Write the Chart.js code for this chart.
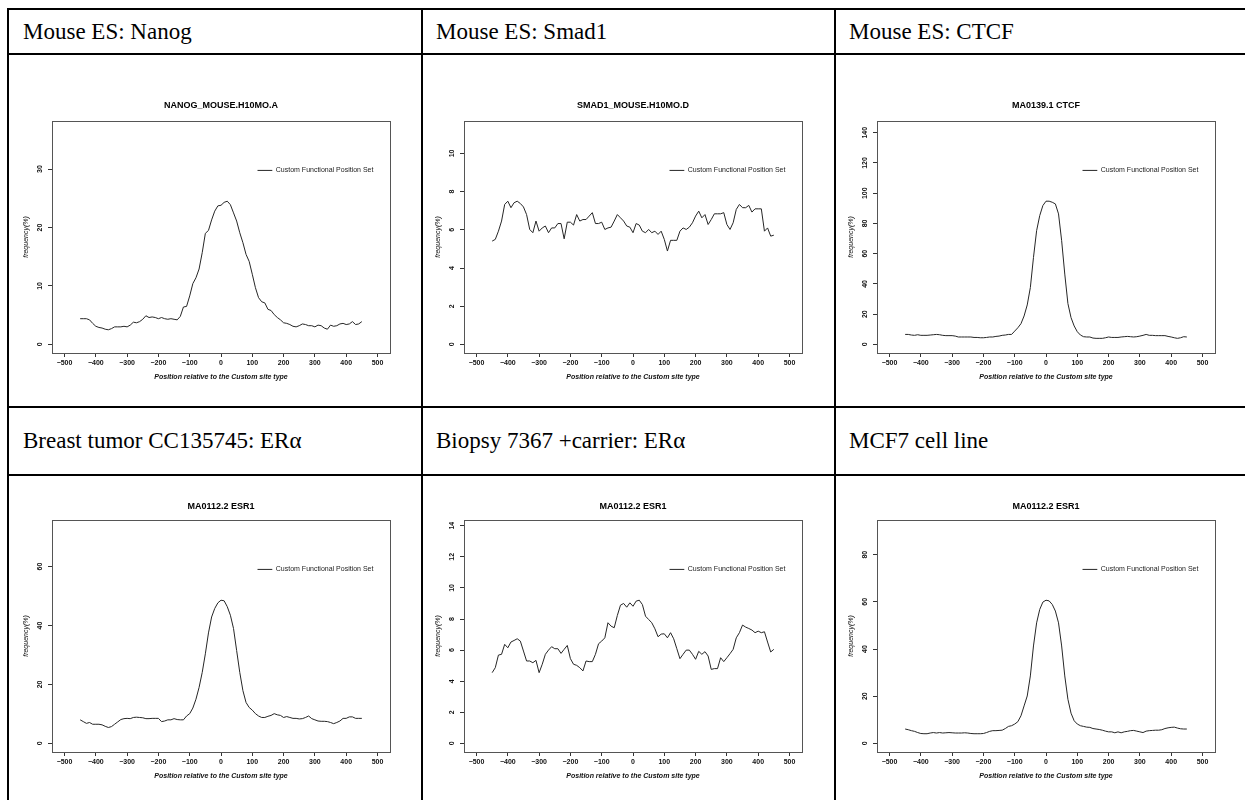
<!DOCTYPE html>
<html>
<head>
<meta charset="utf-8">
<script src="https://cdn.jsdelivr.net/npm/chart.js@4.4.1/dist/chart.umd.min.js"></script>
<style>
html,body{margin:0;padding:0;background:#fff;}
#page{position:relative;width:1245px;height:800px;overflow:hidden;background:#fff;}
.ln{position:absolute;background:#000;}
.hd{position:absolute;font-family:"Liberation Serif","Times New Roman",serif;font-size:23px;color:#000;white-space:nowrap;display:flex;align-items:center;}
canvas{position:absolute;}
</style>
</head>
<body>
<div id="page">
  <div class="ln" style="left:7px;top:8px;width:1238px;height:2px;"></div>
  <div class="ln" style="left:7px;top:8px;width:2px;height:792px;"></div>
  <div class="ln" style="left:421px;top:8px;width:2px;height:792px;"></div>
  <div class="ln" style="left:834px;top:8px;width:2px;height:792px;"></div>
  <div class="ln" style="left:7px;top:53px;width:1238px;height:2px;"></div>
  <div class="ln" style="left:7px;top:406px;width:1238px;height:2px;"></div>
  <div class="ln" style="left:7px;top:474px;width:1238px;height:2px;"></div>

  <div class="hd" style="left:23px;top:10px;height:43px;">Mouse ES: Nanog</div>
  <div class="hd" style="left:436px;top:10px;height:43px;">Mouse ES: Smad1</div>
  <div class="hd" style="left:849px;top:10px;height:43px;">Mouse ES: CTCF</div>
  <div class="hd" style="left:23px;top:408px;height:66px;">Breast tumor CC135745: ERα</div>
  <div class="hd" style="left:436px;top:408px;height:66px;">Biopsy 7367 +carrier: ERα</div>
  <div class="hd" style="left:849px;top:408px;height:66px;">MCF7 cell line</div>

  <canvas id="c1" width="398" height="292" style="left:7px;top:91px;width:398px;height:292px;"></canvas>
  <canvas id="c2" width="398" height="292" style="left:419px;top:91px;width:398px;height:292px;"></canvas>
  <canvas id="c3" width="398" height="292" style="left:832px;top:91px;width:398px;height:292px;"></canvas>
  <canvas id="c4" width="398" height="292" style="left:7px;top:490px;width:398px;height:292px;"></canvas>
  <canvas id="c5" width="398" height="292" style="left:419px;top:490px;width:398px;height:292px;"></canvas>
  <canvas id="c6" width="398" height="292" style="left:832px;top:490px;width:398px;height:292px;"></canvas>
</div>
<script>
// ---------------- DATA ----------------
const positions = [-450,-440,-430,-420,-410,-400,-390,-380,-370,-360,-350,-340,-330,-320,-310,
  -300,-290,-280,-270,-260,-250,-240,-230,-220,-210,-200,-190,-180,-170,-160,-150,-140,-130,-120,-110,
  -100,-90,-80,-70,-60,-50,-40,-30,-20,-10,0,10,20,30,40,50,60,70,80,90,
  100,110,120,130,140,150,160,170,180,190,200,210,220,230,240,250,260,270,280,290,
  300,310,320,330,340,350,360,370,380,390,400,410,420,430,440,450];

const nanogValues = [4.4,4.4,4.4,4.2,3.6,
  3.1,2.9,2.8,2.6,2.5,2.7,3.0,3.0,3.0,3.1,
  3.0,3.3,3.8,3.7,3.9,4.3,4.9,4.6,4.7,4.6,
  4.4,4.6,4.4,4.3,4.4,4.3,4.2,4.8,6.4,6.5,
  8.3,10.4,11.4,12.9,15.7,19.0,19.5,21.3,22.8,23.7,
  23.8,24.3,24.5,23.9,22.5,21.1,19.1,17.4,15.4,14.2,
  12.0,9.7,8.0,7.3,7.1,6.0,5.8,5.1,4.6,4.2,
  3.7,3.6,3.4,3.1,3.0,3.2,3.5,3.4,3.2,3.2,
  3.0,3.3,3.2,2.8,2.6,3.3,3.1,3.2,3.5,3.6,
  3.4,3.5,3.9,3.4,3.5,3.9];

const smad1Values = [5.41,5.5,5.93,6.46,7.33,
  7.5,7.16,7.42,7.5,7.38,7.2,6.8,6.02,5.85,6.46,
  5.93,6.1,6.2,5.85,6.1,6.1,6.33,6.33,5.53,6.4,
  6.4,6.25,6.8,6.46,6.54,6.54,6.72,6.9,6.33,6.33,
  6.4,6.02,6.1,6.14,6.46,6.8,6.63,6.46,6.2,6.14,
  5.85,6.33,6.25,5.93,5.85,6.02,5.85,5.93,5.76,5.93,
  5.5,4.89,5.45,5.45,5.45,5.93,6.1,6.02,6.14,6.37,
  6.72,6.98,6.63,6.8,6.28,6.54,6.84,6.84,6.84,6.9,
  6.28,6.02,6.37,7.07,7.33,7.16,7.16,7.28,6.93,7.1,
  7.1,7.1,5.93,6.1,5.67,5.72];

const ctcfValues = [6.6,6.6,6.2,6.0,6.4,
  6.0,6.0,6.0,6.2,6.4,6.6,6.4,6.0,5.8,5.8,
  5.8,5.5,4.9,4.9,4.9,4.9,4.9,4.6,4.6,4.4,
  4.4,4.6,4.9,4.9,5.3,5.5,6.0,6.2,6.6,6.6,
  8.8,11.0,13.7,18.8,26.1,37.6,57.5,75.2,85.2,91.8,
  94.7,94.7,94.0,92.9,86.3,68.6,46.5,27.0,17.7,12.2,
  8.4,6.2,5.1,4.9,4.9,4.2,4.0,4.0,4.0,4.4,
  4.9,4.6,4.6,4.6,4.9,5.1,5.3,5.1,4.9,5.1,
  5.5,6.0,6.6,6.0,6.0,5.8,5.8,5.8,5.8,5.3,
  4.9,4.4,4.0,4.4,5.1,4.9];

const breastTumorValues = [8.0,7.4,6.8,7.1,6.5,
  6.5,6.5,6.3,5.8,5.4,5.7,6.5,7.3,8.1,8.4,
  8.5,8.4,8.8,8.9,8.8,8.7,8.4,8.4,8.5,8.5,
  8.5,7.4,7.6,8.0,8.0,8.4,8.1,8.0,8.0,9.3,
  10.1,12.0,15.0,19.0,24.1,30.4,37.5,42.9,45.8,47.7,
  48.6,48.4,46.4,43.5,39.0,31.5,24.1,17.9,13.9,12.2,
  11.3,10.1,9.3,8.8,8.8,9.2,9.5,10.1,9.7,9.5,
  8.8,9.1,8.8,8.5,8.5,8.3,8.4,8.8,9.3,8.4,
  8.0,7.6,7.5,7.5,7.4,7.1,6.7,7.1,7.6,8.5,
  8.5,9.0,9.0,8.5,8.5,8.5];

const biopsyValues = [4.55,4.87,5.68,5.73,6.37,
  6.15,6.52,6.62,6.73,6.58,5.94,5.3,5.3,5.19,5.34,
  4.55,5.09,5.73,6.0,6.22,6.09,6.09,5.79,6.05,6.3,
  5.45,5.09,5.02,4.87,4.66,5.3,5.26,5.26,5.73,6.41,
  6.58,6.79,7.76,7.54,7.44,8.23,8.89,9.0,8.76,9.04,
  8.82,9.15,9.21,8.93,8.18,7.97,7.76,7.37,6.86,7.03,
  7.05,6.79,7.12,6.73,6.09,5.45,5.73,6.0,6.0,5.73,
  5.41,5.92,5.73,5.9,5.62,4.76,4.81,4.81,5.51,5.26,
  5.51,5.77,6.05,6.79,7.12,7.61,7.48,7.39,7.29,7.12,
  7.22,7.12,7.18,6.52,5.88,6.05];

const mcf7Values = [6.1,5.8,5.4,5.1,4.6,
  4.2,4.1,4.1,4.4,4.6,4.4,4.6,4.4,4.5,4.6,
  4.5,4.4,4.4,4.4,4.5,4.4,4.2,4.1,4.1,4.1,
  4.2,4.6,5.1,5.4,5.4,5.5,5.6,6.3,7.2,7.5,
  8.2,9.2,11.7,15.9,20.1,28.6,41.3,51.1,56.8,59.9,
  60.7,60.4,58.9,56.1,51.1,41.3,28.6,18.7,12.8,9.6,
  8.2,7.5,7.2,6.9,6.8,6.3,6.1,5.9,5.6,5.2,
  4.9,4.9,4.5,4.9,4.5,4.9,5.1,5.4,5.5,5.2,
  4.9,4.6,5.2,5.4,5.5,5.6,5.6,5.8,6.3,6.6,
  6.8,6.9,6.5,6.2,6.1,6.1];

const xTickValues = [-500,-400,-300,-200,-100,0,100,200,300,400,500];
const nanogYTicks = [0,10,20,30];
const smad1YTicks = [0,2,4,6,8,10];
const ctcfYTicks = [0,20,40,60,80,100,120,140];
const breastTumorYTicks = [0,20,40,60];
const biopsyYTicks = [0,2,4,6,8,10,12,14];
const mcf7YTicks = [0,20,40,60,80];

const panelTitles = ['NANOG_MOUSE.H10MO.A','SMAD1_MOUSE.H10MO.D','MA0139.1 CTCF',
                     'MA0112.2 ESR1','MA0112.2 ESR1','MA0112.2 ESR1'];
const legendLabel = 'Custom Functional Position Set';
const xAxisTitle = 'Position relative to the Custom site type';
const yAxisTitle = 'frequency(%)';

// ---------------- LAYOUT / STYLE ----------------
const SANS = '"Liberation Sans", Arial, Helvetica, sans-serif';
const rowStyle = [
  {titleTop: 9.3, titleBottom: 9.9},
  {titleTop: 11.1, titleBottom: 8.1}
];
const legendAnchorX = 116;      // data units on the x axis
const legendAnchorFrac = 0.81;  // fraction of the y limit

const rPlot = {
  id: 'rPlot',
  afterLayout(chart, args, opts) {
    const xs = chart.scales.x, ys = chart.scales.y, lg = chart.legend;
    if (!lg) return;
    const left = xs.getPixelForValue(opts.legendX);
    const top = ys.getPixelForValue(opts.legendY) - opts.legendFontSize / 2;
    lg.left = left; lg.top = top;
    lg.right = left + lg.width; lg.bottom = top + lg.height;
  },
  afterDraw(chart, args, opts) {
    const {ctx, chartArea: a} = chart;
    const ys = chart.scales.y;
    ctx.save();
    ctx.strokeStyle = '#555';
    ctx.lineWidth = 1;
    const l = Math.round(a.left) + 0.5, t = Math.round(a.top) + 0.5;
    ctx.strokeRect(l, t, Math.round(a.right) - Math.round(a.left), Math.round(a.bottom) - Math.round(a.top));
    ctx.fillStyle = '#111';
    ctx.font = 'bold 7px ' + SANS;
    ctx.textAlign = 'center';
    ctx.textBaseline = 'middle';
    ys.ticks.forEach(tk => {
      const py = ys.getPixelForValue(tk.value);
      ctx.save();
      ctx.translate(a.left - opts.yLabelOffset, py);
      ctx.rotate(-Math.PI / 2);
      ctx.fillText(String(tk.value), 0, 0);
      ctx.restore();
    });
    ctx.restore();
  }
};

const panels = [
  {id: 'c1', title: panelTitles[0], values: nanogValues, yTicks: nanogYTicks, row: 0},
  {id: 'c2', title: panelTitles[1], values: smad1Values, yTicks: smad1YTicks, row: 0},
  {id: 'c3', title: panelTitles[2], values: ctcfValues, yTicks: ctcfYTicks, row: 0},
  {id: 'c4', title: panelTitles[3], values: breastTumorValues, yTicks: breastTumorYTicks, row: 1},
  {id: 'c5', title: panelTitles[4], values: biopsyValues, yTicks: biopsyYTicks, row: 1},
  {id: 'c6', title: panelTitles[5], values: mcf7Values, yTicks: mcf7YTicks, row: 1}
];

const xLimit = 540;

panels.forEach(p => {
  const rs = rowStyle[p.row];
  const yTop = 1.5 * Math.max(...p.values);
  const xTicks = xTickValues;
  const yTicks = p.yTicks;
  new Chart(document.getElementById(p.id), {
    type: 'line',
    data: {
      datasets: [{
        label: legendLabel,
        data: positions.map((x, i) => ({x: x, y: p.values[i]})),
        borderColor: '#262626',
        backgroundColor: '#262626',
        borderWidth: 1,
        pointRadius: 0,
        tension: 0,
        fill: false
      }]
    },
    options: {
      responsive: false,
      animation: false,
      events: [],
      layout: {padding: {left: 15, right: 15, top: 0, bottom: 0}},
      scales: {
        x: {
          type: 'linear',
          position: 'bottom',
          min: -xLimit,
          max: xLimit,
          afterBuildTicks: s => { s.ticks = xTicks.map(v => ({value: v})); },
          afterFit: s => { s.height = 30; },
          ticks: {
            autoSkip: false,
            maxRotation: 0,
            minRotation: 0,
            padding: 1.8,
            color: '#111',
            font: {family: SANS, size: 7, weight: 'bold'},
            callback: v => (v < 0 ? '\u2212' + Math.abs(v) : String(v))
          },
          grid: {display: true, drawOnChartArea: false, drawTicks: true, tickLength: 4, color: '#333', lineWidth: 1},
          border: {display: false},
          title: {
            display: true,
            text: xAxisTitle,
            color: '#111',
            font: {family: SANS, size: 7, weight: 'bold', style: 'italic'},
            padding: {top: 0, bottom: 1.8}
          }
        },
        y: {
          type: 'linear',
          position: 'left',
          min: -0.04 * yTop,
          max: 1.04 * yTop,
          afterBuildTicks: s => { s.ticks = yTicks.map(v => ({value: v})); },
          afterFit: s => { s.width = 30; },
          ticks: {display: false},
          grid: {display: true, drawOnChartArea: false, drawTicks: true, tickLength: 4, color: '#333', lineWidth: 1},
          border: {display: false},
          title: {
            display: true,
            text: yAxisTitle,
            color: '#111',
            font: {family: SANS, size: 7, style: 'italic'},
            padding: {top: 0, bottom: 0}
          }
        }
      },
      plugins: {
        title: {
          display: true,
          text: p.title,
          fullSize: false,
          color: '#000',
          font: {family: SANS, size: 9, weight: 'bold'},
          padding: {top: rs.titleTop, bottom: rs.titleBottom}
        },
        legend: {
          display: true,
          position: 'chartArea',
          align: 'start',
          labels: {
            usePointStyle: true,
            pointStyle: 'line',
            pointStyleWidth: 15,
            padding: 0,
            color: '#222',
            font: {family: SANS, size: 7}
          }
        },
        tooltip: {enabled: false},
        rPlot: {
          legendX: legendAnchorX,
          legendY: legendAnchorFrac * yTop,
          legendFontSize: 7,
          yLabelOffset: 12
        }
      }
    },
    plugins: [rPlot]
  });
});
</script>
</body>
</html>
